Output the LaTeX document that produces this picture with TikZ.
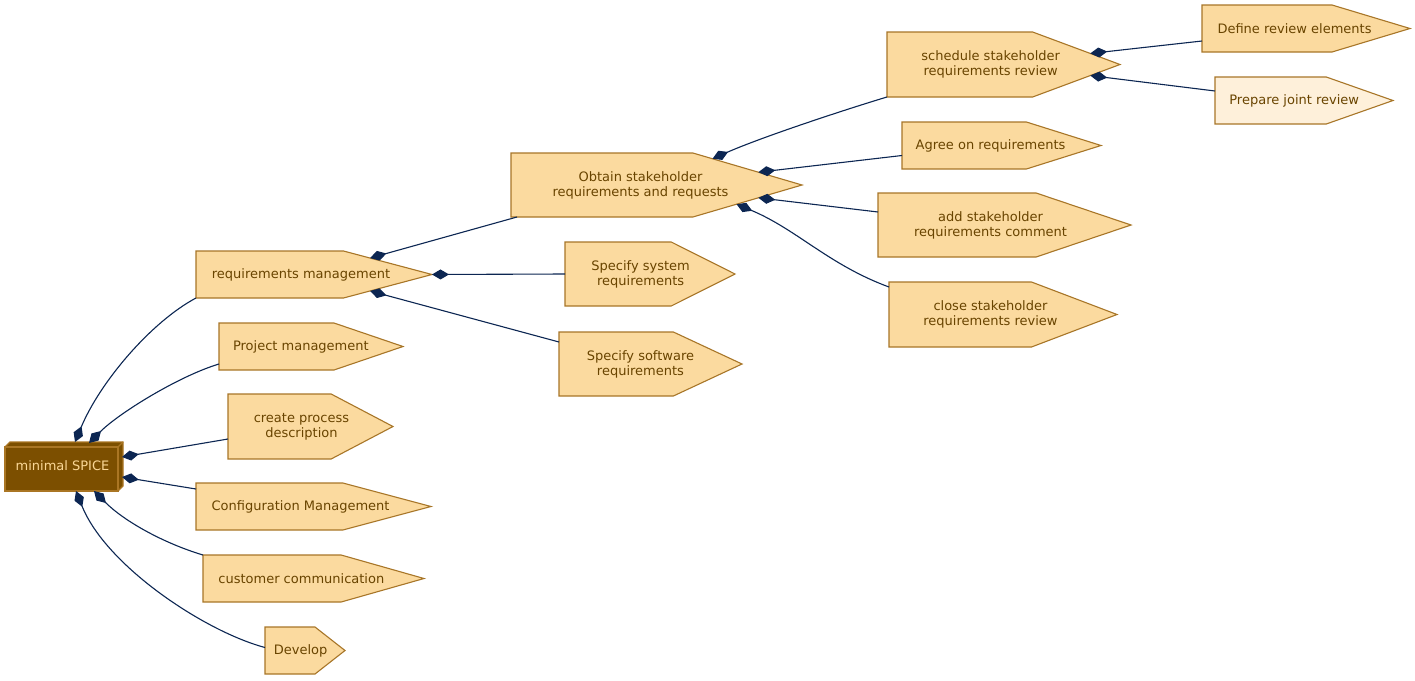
\documentclass[tikz,border=0pt]{standalone}
\usepackage{fontspec}
\setmainfont{DejaVu Sans}
\usetikzlibrary{calc,arrows.meta}
\definecolor{pfill}{RGB}{251,218,159}
\definecolor{plight}{RGB}{254,240,218}
\definecolor{pborder}{RGB}{168,118,40}
\definecolor{ptext}{RGB}{105,68,0}
\definecolor{edgec}{RGB}{12,38,82}
\definecolor{sfill}{RGB}{124,79,0}
\definecolor{stext}{RGB}{250,215,150}
\definecolor{sborder}{RGB}{170,118,36}
\tikzset{
  boxn/.style={inner sep=0pt, outer sep=0pt, draw=none},
  pentd/.style={draw=pborder, line width=1.1pt, line join=miter},
  lbl/.style={inner sep=0pt, text=ptext, align=center, font=\fontsize{13}{15}\selectfont},
  slbl/.style={inner sep=0pt, text=stext, font=\fontsize{13}{15}\selectfont},
  sbox/.style={draw=sborder, fill=sfill, line width=1.1pt},
  conn/.style={draw=edgec, line width=1.1pt, {Diamond[length=17pt,width=10pt]}-},
}
% name, x1, x2, y1, y2, fill, text
\newcommand\pent[7]{%
  \node[boxn, minimum width={#3-#2}, minimum height={#5-#4}] (#1) at ({(#2+#3)/2},{(#4+#5)/2}) {};
  \coordinate (#1-ur) at ($(#1.north west)!0.625!(#1.north east)$);
  \coordinate (#1-lr) at ($(#1.south west)!0.625!(#1.south east)$);
  \draw[pentd, fill=#6] (#1.north west) -- (#1-ur) -- (#1.east) -- (#1-lr) -- (#1.south west) -- cycle;
  \node[lbl] (#1-t) at ($(#1.west)!0.445!(#1.east)$) {#7};
}
\begin{document}
\begin{tikzpicture}[x=1pt,y=-1pt]
\useasboundingbox (0,0) rectangle (1415,680);
\fill[white] (0,0) rectangle (1415,680);

% minimal SPICE (3D box)
\node[boxn, minimum width=113, minimum height=44] (spice) at (61.5,469) {};
\draw[sbox] (spice.north west) -- ++(5,-5) -- ($(spice.north east)+(5,-5)$) -- ($(spice.south east)+(5,-5)$) -- (spice.south east) -- cycle;
\draw[sbox] (spice.north west) rectangle (spice.south east);
\draw[sbox] (spice.north east) -- ++(5,-5);
\node[slbl] (spice-t) at ($(spice)+(1,-3)$) {minimal SPICE};

\pent{rm}{196}{432}{251}{298}{pfill}{requirements management}
\pent{pm}{219}{403}{323}{370}{pfill}{Project management}
\pent{cp}{228}{393}{394}{459}{pfill}{create process\\description}
\pent{cm}{196}{431}{483}{530}{pfill}{Configuration Management}
\pent{cc}{203}{424}{555}{602}{pfill}{customer communication}
\pent{dev}{265}{345}{627}{674}{pfill}{Develop}
\pent{ob}{511}{802}{153}{217}{pfill}{Obtain stakeholder\\requirements and requests}
\pent{ss}{565}{735}{242}{306}{pfill}{Specify system\\requirements}
\pent{sw}{559}{742}{332}{396}{pfill}{Specify software\\requirements}
\pent{sch}{887}{1120}{32}{97}{pfill}{schedule stakeholder\\requirements review}
\pent{ag}{902}{1101}{122}{169}{pfill}{Agree on requirements}
\pent{add}{878}{1131}{193}{257}{pfill}{add stakeholder\\requirements comment}
\pent{close}{889}{1117}{282}{347}{pfill}{close stakeholder\\requirements review}
\pent{def}{1202}{1410}{5}{52}{pfill}{Define review elements}
\pent{prep}{1215}{1393}{77}{124}{plight}{Prepare joint review}

% connectors from minimal SPICE
\draw[conn] ($(spice.north west)+(70,-5)$) .. controls +(25,-60) and +(-45,24) .. (rm.south west);
\draw[conn] ($(spice.north west)+(84,-4)$) .. controls +(30,-30) and +(-40,12) .. ($(pm.south west)+(0,-6)$);
\draw[conn] ($(spice.north east)+(4,10)$) -- ($(cp.south west)+(0,-20)$);
\draw[conn] ($(spice.north east)+(4,30)$) -- ($(cm.north west)+(0,6)$);
\draw[conn] ($(spice.south west)+(89,0)$) .. controls +(30,30) and +(-40,-12) .. (cc.north west);
\draw[conn] ($(spice.south west)+(71,0)$) .. controls +(30,75) and +(-60,-16) .. ($(dev.west)+(0,-3)$);

% connectors from requirements management
\draw[conn] ($(rm-ur)!0.3!(rm.east)$) -- ($(ob.south west)+(6,0)$);
\draw[conn] (rm.east) -- (ss.west);
\draw[conn] ($(rm-lr)!0.3!(rm.east)$) -- ($(sw.north west)+(0,10)$);

% connectors from Obtain stakeholder requirements
\draw[conn] ($(ob-ur)!0.18!(ob.east)$) .. controls +(50,-22) and +(-40,12) .. (sch.south west);
\draw[conn] ($(ob-ur)!0.6!(ob.east)$) -- ($(ag.west)+(0,10)$);
\draw[conn] ($(ob-lr)!0.6!(ob.east)$) -- ($(add.north west)+(0,19)$);
\draw[conn] ($(ob-lr)!0.4!(ob.east)$) .. controls +(60,25) and +(-60,-22) .. ($(close.north west)+(0,5)$);

% connectors from schedule stakeholder requirements review
\draw[conn] ($(sch-ur)!0.66!(sch.east)$) -- ($(def.south west)+(0,-11)$);
\draw[conn] ($(sch-lr)!0.66!(sch.east)$) -- ($(prep.north west)+(0,14)$);
\end{tikzpicture}
\end{document}
